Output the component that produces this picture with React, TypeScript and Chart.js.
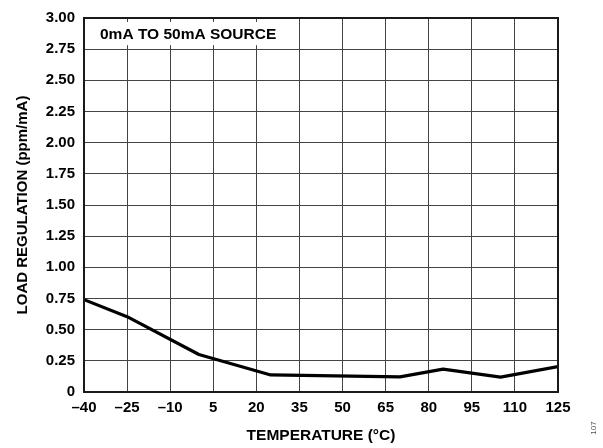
import React, { useEffect, useRef } from "react";
import { Chart, registerables } from "chart.js";

Chart.register(...registerables);

const temperatures = [-40, -25, 0, 25, 70, 85, 105, 125];
const loadRegulation = [0.741, 0.604, 0.301, 0.137, 0.121, 0.184, 0.119, 0.203];
const boxLabel = "0mA TO 50mA SOURCE";
const xTitle = "TEMPERATURE (°C)";
const yTitle = "LOAD REGULATION (ppm/mA)";
const figureId = "107";

const FONT = "'Liberation Sans', Arial, Helvetica, sans-serif";

const overlayPlugin = {
  id: "overlay",
  afterDraw(chart: any) {
    const { ctx, chartArea, scales } = chart;
    const xs = scales.x;
    const ys = scales.y;
    const x0 = xs.getPixelForValue(-40);
    const x1 = xs.getPixelForValue(35);
    const y0 = ys.getPixelForValue(3);
    const y1 = ys.getPixelForValue(2.75);
    ctx.save();
    ctx.fillStyle = "#fff";
    ctx.fillRect(x0, y0, x1 - x0 - 1, y1 - y0 - 1);
    // small ticks at top and bottom of the label box
    ctx.strokeStyle = "#444";
    ctx.lineWidth = 1;
    [-25, -10, 5, 20].forEach((t) => {
      const px = Math.round(xs.getPixelForValue(t)) + 0.5;
      ctx.beginPath();
      ctx.moveTo(px, y0);
      ctx.lineTo(px, y0 + 4);
      ctx.moveTo(px, y1 - 4);
      ctx.lineTo(px, y1);
      ctx.stroke();
    });
    ctx.fillStyle = "#000";
    ctx.font = `bold 15.5px ${FONT}`;
    ctx.textAlign = "left";
    ctx.textBaseline = "middle";
    ctx.fillText(boxLabel, x0 + 16, (y0 + y1) / 2 + 1);
    // plot frame
    ctx.strokeStyle = "#1a1a1a";
    ctx.lineWidth = 2;
    ctx.strokeRect(
      chartArea.left,
      chartArea.top,
      chartArea.right - chartArea.left,
      chartArea.bottom - chartArea.top
    );
    // figure id
    ctx.translate(594, 428);
    ctx.rotate(-Math.PI / 2);
    ctx.fillStyle = "#555";
    ctx.font = `8px ${FONT}`;
    ctx.textAlign = "center";
    ctx.textBaseline = "middle";
    ctx.fillText(figureId, 0, 0);
    ctx.restore();
  },
};

export default function App() {
  const ref = useRef<HTMLCanvasElement>(null);
  useEffect(() => {
    if (!ref.current) return;
    const chart = new Chart(ref.current, {
      type: "line",
      data: {
        datasets: [
          {
            data: temperatures.map((t, i) => ({ x: t, y: loadRegulation[i] })),
            borderColor: "#000",
            borderWidth: 3.2,
            pointRadius: 0,
            tension: 0,
            borderJoinStyle: "round",
            fill: false,
          },
        ],
      },
      options: {
        animation: false,
        responsive: false,
        devicePixelRatio: 1,
        layout: { padding: { top: 13, right: 45, left: 0, bottom: 0 } },
        plugins: { legend: { display: false }, tooltip: { enabled: false } },
        scales: {
          x: {
            type: "linear",
            min: -40,
            max: 125,
            afterFit: (s: any) => {
              s.height = 56;
            },
            ticks: {
              stepSize: 15,
              padding: 7,
              color: "#000",
              font: { family: FONT, size: 15, weight: "bold" },
              callback: (v: any) => String(v).replace("-", "\u2013"),
              maxRotation: 0,
              autoSkip: false,
            },
            grid: { color: "#444", lineWidth: 1, drawTicks: false },
            border: { display: true, color: "#1a1a1a", width: 2 },
            title: {
              display: true,
              text: xTitle,
              color: "#000",
              font: { family: FONT, size: 15.5, weight: "bold" },
              padding: { top: 0, bottom: 3 },
            },
          },
          y: {
            type: "linear",
            min: 0,
            max: 3,
            afterFit: (s: any) => {
              s.width = 84;
            },
            ticks: {
              stepSize: 0.25,
              padding: 9,
              color: "#000",
              font: { family: FONT, size: 15, weight: "bold" },
              callback: (v: any) => (v === 0 ? "0" : Number(v).toFixed(2)),
              autoSkip: false,
            },
            grid: { color: "#444", lineWidth: 1, drawTicks: false },
            border: { display: true, color: "#1a1a1a", width: 2 },
            title: {
              display: true,
              text: yTitle,
              color: "#000",
              font: { family: FONT, size: 15, weight: "bold" },
              padding: { top: 14, bottom: 0 },
            },
          },
        },
      },
      plugins: [overlayPlugin],
    } as any);
    return () => chart.destroy();
  }, []);
  return (
    <div style={{ position: "fixed", left: 0, top: 0, width: 603, height: 448, background: "#fff" }}>
      <canvas ref={ref} width={603} height={448} />
    </div>
  );
}
